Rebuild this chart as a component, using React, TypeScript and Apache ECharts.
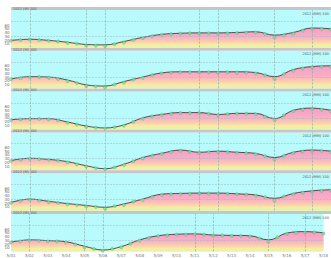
import React, { useEffect, useRef } from "react";
import * as echarts from "echarts";

const categories = ["5/01","5/02","5/03","5/04","5/05","5/06","5/07","5/08","5/09","5/10","5/11","5/12","5/13","5/14","5/15","5/16","5/17","5/18"];
const headerTitles = ["2012 (M) 100","2012 (M) 100","2012 (M) 100","2012 (M) 100","2012 (M) 100","2012 (M) 100"];
const cornerTags = ["2012 (MM) 100","2012 (MM) 100","2012 (MM) 100","2012 (MM) 100","2012 (MM) 100","2012 (MM) 100"];

const line1 = [19,22,19,14,8,7,16,27,35,38,39,39,40,42,33,40,52,50];
const line2 = [25,31,30,22,9,6,18,30,41,44,44,44,44,42,31,50,58,60];
const line3 = [25,28,28,19,8,3,11,30,39,44,44,39,42,42,28,50,56,50];
const line4 = [25,31,28,22,11,3,15,33,44,53,47,50,47,44,33,47,53,50];
const line5 = [22,31,25,19,14,9,18,31,44,46,47,47,45,42,33,46,53,56];
const line6 = [25,31,29,26,14,4,13,31,42,46,47,44,43,42,31,49,53,50];

// green dots on each day
const dots1 = [18,21,18,12,5,3,13,25,34,37,38,37,39,40,27,37,50,48];
const dots2 = [24,30,28,19,6,2,15,28,40,43,43,42,42,40,25,47,56,58];
const dots3 = [24,27,26,17,6,2,9,28,38,43,43,37,41,40,24,48,54,48];
const dots4 = [24,30,27,20,9,2,13,31,43,51,46,48,46,42,28,45,51,48];
const dots5 = [21,29,23,17,11,5,15,29,42,45,46,45,44,40,27,44,51,54];
const dots6 = [24,30,27,24,11,2,11,29,41,45,46,43,42,40,26,47,51,48];
// green dots half-way between days
const mid1 = [20,20,16,10,5,9,20,30,36,38,38,38,40,36,33,45,50];
const mid2 = [27,30,25,14,5,10,23,35,42,43,43,43,42,35,38,53,58];
const mid3 = [26,27,23,12,4,5,19,34,41,43,41,40,41,33,37,52,52];
const mid4 = [27,29,25,15,5,7,23,38,48,49,48,48,45,37,38,49,51];
const mid5 = [26,27,21,15,10,12,24,37,44,45,46,45,43,36,38,48,53];
const mid6 = [27,29,27,19,7,7,21,36,43,45,45,43,42,35,38,50,51];

const lines = [line1, line2, line3, line4, line5, line6];
const dots = [dots1, dots2, dots3, dots4, dots5, dots6];
const mids = [mid1, mid2, mid3, mid4, mid5, mid6];
const markDays = ["5/02","5/05","5/06","5/11","5/12","5/15","5/17"];
const markLevels = [30, 70];
const yTicks = [10, 20, 30, 40, 50, 60];

const W = 331;
const H = 258;
const LEFT = 11;
const FIRST_BAND = 7;
const STEP = 40.8;
const BAND_H = 3;
const PLOT_H = 37.5;

export default function App() {
  const ref = useRef<HTMLDivElement>(null);
  useEffect(() => {
    document.body.style.margin = "0";
    if (!ref.current) return;
    const chart = echarts.init(ref.current, null, { renderer: "svg" });
    const grids: any[] = [];
    const xAxes: any[] = [];
    const yAxes: any[] = [];
    const series: any[] = [];
    const graphic: any[] = [];
    for (let k = 0; k < 6; k++) {
      const bandTop = FIRST_BAND + STEP * k;
      const gridTop = bandTop + BAND_H;
      grids.push({
        left: LEFT,
        width: W - LEFT,
        top: gridTop,
        height: PLOT_H,
        show: true,
        backgroundColor: "#b9fbfd",
        borderWidth: 0,
      });
      const last = k === 5;
      xAxes.push({
        type: "value",
        gridIndex: k,
        min: 0,
        max: categories.length - 1,
        interval: 1,
        axisLine: { show: false },
        axisTick: { show: false },
        splitLine: { show: false },
        axisLabel: last
          ? {
              show: true,
              fontSize: 4,
              color: "#777",
              margin: 2,
              fontFamily: "DejaVu Sans",
              formatter: (v: number) => categories[Math.round(v)] ?? "",
            }
          : { show: false },
      });
      yAxes.push({
        type: "value",
        gridIndex: k,
        min: 0,
        max: 100,
        interval: 10,
        axisLine: { show: false },
        axisTick: { show: false },
        splitLine: { show: false },
        axisLabel: {
          fontSize: 4,
          color: "#666",
          margin: 1.5,
          fontFamily: "DejaVu Sans",
          formatter: (v: number) => (yTicks.includes(v) ? String(v) : ""),
        },
      });
      series.push({
        type: "line",
        xAxisIndex: k,
        yAxisIndex: k,
        data: lines[k].map((v, i) => [i, v]),
        smooth: 0.4,
        symbol: "none",
        lineStyle: { color: "#2a2a2a", width: 0.8 },
        areaStyle: {
          color: new echarts.graphic.LinearGradient(0, 0, 0, 1, [
            { offset: 0, color: "#f59ec8" },
            { offset: 0.45, color: "#f9afc4" },
            { offset: 0.68, color: "#fbcbb0" },
            { offset: 0.85, color: "#f8eca2" },
            { offset: 1, color: "#e0f6ac" },
          ]),
          opacity: 1,
        },
        markLine: {
          silent: true,
          symbol: "none",
          label: { show: false },
          lineStyle: { color: "#86aaa0", type: "dashed", width: 0.6 },
          data: [
            ...markDays.map((d) => ({ xAxis: categories.indexOf(d) })),
            ...markLevels.map((v) => ({ yAxis: v, lineStyle: { color: "#9ab6c8", type: "dashed", width: 0.5 } })),
          ],
        },
        z: 2,
      });
      const pts = [
        ...dots[k].map((v, i) => [i, v]),
        ...mids[k].map((v, i) => [i + 0.5, v]),
      ];
      series.push({
        type: "scatter",
        xAxisIndex: k,
        yAxisIndex: k,
        data: pts,
        symbolSize: 3.2,
        itemStyle: { color: "#7fdfa0", borderColor: "#2f8a55", borderWidth: 0.6, borderType: "dotted" },
        z: 3,
      });
      graphic.push({
        type: "rect",
        shape: { x: LEFT, y: bandTop, width: W - LEFT, height: BAND_H },
        style: { fill: "#c6c6c6" },
        silent: true,
      });
      graphic.push({
        type: "text",
        x: LEFT + 2,
        y: bandTop - 0.2,
        style: { text: headerTitles[k], fontSize: 3.5, fill: "#555", fontFamily: "DejaVu Sans" },
        silent: true,
      });
      graphic.push({
        type: "text",
        x: W - 2,
        y: gridTop + 1.5,
        style: { text: cornerTags[k], fontSize: 3.5, fill: "#555", align: "right", fontFamily: "DejaVu Sans" },
        silent: true,
        z: 10,
      });
    }
    chart.setOption({
      animation: false,
      backgroundColor: "#ffffff",
      grid: grids,
      xAxis: xAxes,
      yAxis: yAxes,
      series,
      graphic,
    });
    return () => chart.dispose();
  }, []);
  return <div ref={ref} style={{ width: W, height: H }} />;
}
